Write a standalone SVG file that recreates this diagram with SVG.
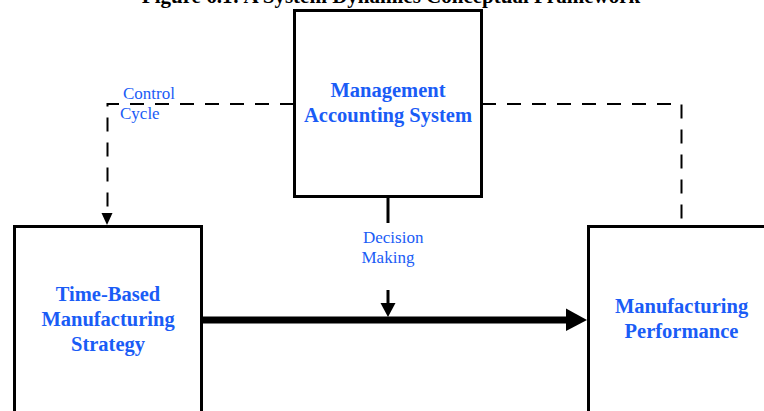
<svg xmlns="http://www.w3.org/2000/svg" width="764" height="411" viewBox="0 0 764 411">
  <style>
    .box { fill: #ffffff; stroke: #000000; stroke-width: 3; }
    .title { font-family: "Liberation Serif", "Times New Roman", serif; font-weight: bold; font-size: 21px; fill: #000000; }
    .node-label { font-family: "Liberation Serif", "Times New Roman", serif; font-weight: bold; font-size: 20.5px; fill: #1a5cf6; text-anchor: middle; }
    .edge-label { font-family: "Liberation Serif", "Times New Roman", serif; font-size: 17px; fill: #1a5cf6; }
    .dash { fill: none; stroke: #000000; stroke-width: 2; stroke-dasharray: 14 11; }
    .solid { fill: none; stroke: #000000; stroke-width: 3; }
  </style>
  <rect width="764" height="411" fill="#ffffff"/>

  <text class="title" x="391" y="3" text-anchor="middle">Figure 6.1: A System Dynamics Conceptual Framework</text>

  <g id="connectors">
    <!-- control cycle: feedback loop over the top -->
    <path class="dash" d="M294 104 H107.5 V213"/>
    <polygon points="101.5,213 112.5,213 107,225" fill="#000000"/>
    <path class="dash" d="M482 104 H681.5 V226"/>

    <!-- decision making -->
    <path class="solid" d="M388 196 V223"/>
    <path class="solid" d="M388 290 V304"/>
    <polygon points="380.5,303 395.5,303 388,317" fill="#000000"/>

    <!-- strategy to performance -->
    <path d="M201 320 H567" stroke="#000000" stroke-width="7" fill="none" stroke-linecap="round"/>
    <polygon points="566,308.5 587,320 566,331" fill="#000000"/>
  </g>

  <g id="management-accounting-system">
    <rect class="box" x="294.5" y="10.5" width="187" height="186"/>
    <text class="node-label" x="388" y="97">Management</text>
    <text class="node-label" x="388" y="122">Accounting System</text>
  </g>

  <g id="time-based-manufacturing-strategy">
    <rect class="box" x="14.5" y="226.5" width="187" height="200"/>
    <text class="node-label" x="108" y="301">Time-Based</text>
    <text class="node-label" x="108" y="326">Manufacturing</text>
    <text class="node-label" x="108" y="351">Strategy</text>
  </g>

  <g id="manufacturing-performance">
    <rect class="box" x="588.5" y="226.5" width="200" height="200"/>
    <text class="node-label" x="681.5" y="313">Manufacturing</text>
    <text class="node-label" x="681.5" y="338">Performance</text>
  </g>

  <g id="edge-labels">
    <text class="edge-label" x="123" y="99">Control</text>
    <text class="edge-label" x="120" y="119">Cycle</text>
    <text class="edge-label" x="363" y="243">Decision</text>
    <text class="edge-label" x="361.5" y="263">Making</text>
  </g>
</svg>
